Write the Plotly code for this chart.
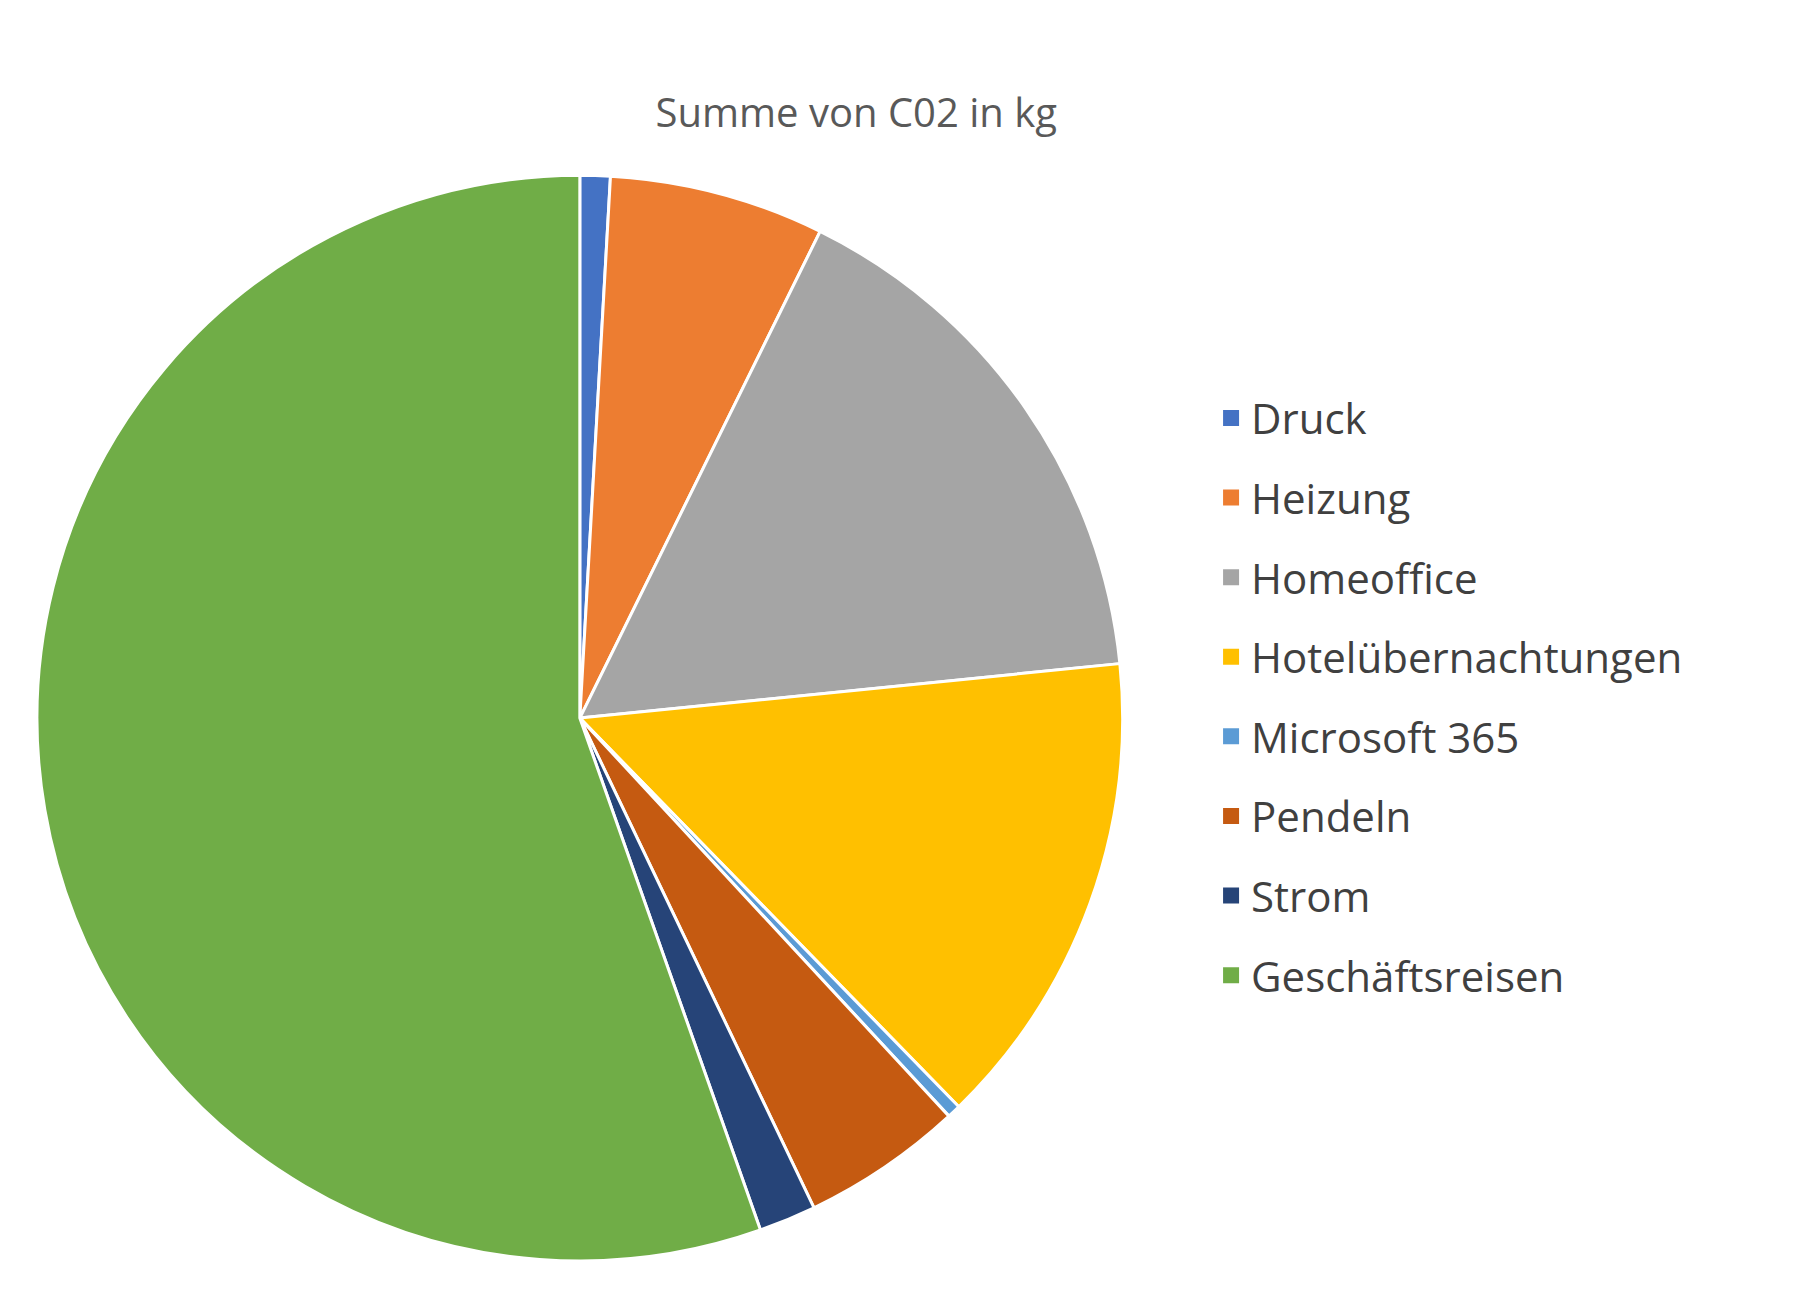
import plotly.graph_objects as go

labels = ["Druck", "Heizung", "Homeoffice", "Hotelübernachtungen", "Microsoft 365",
          "Pendeln", "Strom", "Geschäftsreisen"]
values = [0.9, 6.4, 16.1, 14.3, 0.4, 4.8, 1.7, 55.4]
colors = ["#4472C4", "#ED7D31", "#A5A5A5", "#FFC000", "#5B9BD5",
          "#C55A11", "#264478", "#70AD47"]

fig = go.Figure(go.Pie(
    labels=labels, values=values, sort=False, direction="clockwise", rotation=0,
    marker=dict(colors=colors, line=dict(color="white", width=3)),
    textinfo="none", hoverinfo="label+value", showlegend=False,
    domain=dict(x=[0.016, 0.619], y=[0.034, 0.871]),
))
# legend entries as dummy traces so the rows can be spaced like the original
for lab, col in zip(labels, colors):
    fig.add_trace(go.Scatter(x=[None], y=[None], mode="markers", name=lab,
                             legendgroup=lab,
                             marker=dict(symbol="square", size=18, color=col)))
fig.update_xaxes(visible=False)
fig.update_yaxes(visible=False)
fig.update_layout(
    width=1801, height=1297, paper_bgcolor="white", plot_bgcolor="white",
    margin=dict(l=0, r=0, t=0, b=0),
    font=dict(family="Open Sans", color="#404040"),
    title=dict(text="Summe von C02 in kg", x=0.471, xanchor="center", y=0.93,
               font=dict(size=40, color="#595959")),
    legend=dict(x=0.668, y=0.71, yanchor="top", font=dict(size=42),
                itemwidth=30, tracegroupgap=22),
)
fig.write_html("out.html")
